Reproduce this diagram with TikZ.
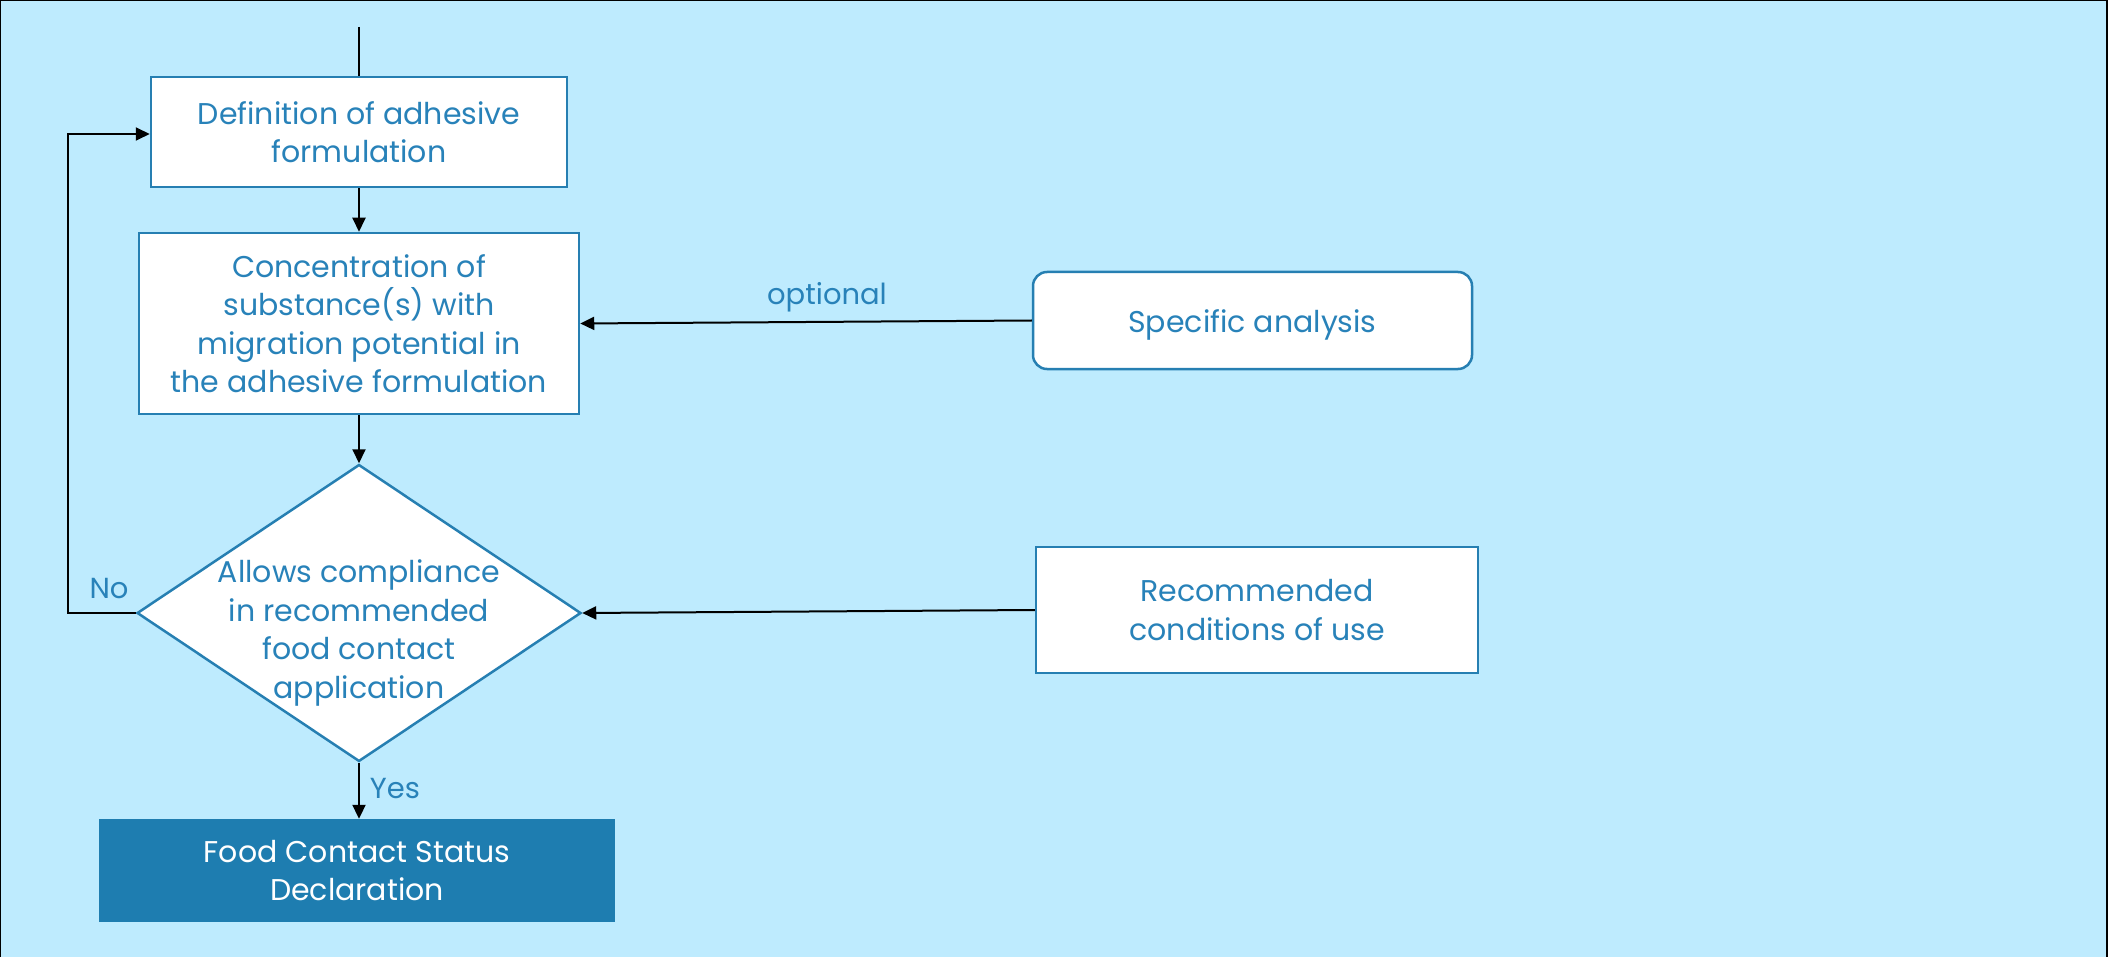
\documentclass[tikz,border=0pt]{standalone}
\usepackage{fontspec}
\setmainfont{Poppins}
\usetikzlibrary{arrows.meta,shapes.geometric}
\definecolor{bgblue}{RGB}{190,235,254}
\definecolor{lineblue}{RGB}{38,127,178}
\definecolor{txtblue}{RGB}{40,130,185}
\definecolor{fillblue}{RGB}{30,125,176}
\tikzset{
  x=1pt,y=-1pt,
  boxtxt/.style={font=\fontsize{30}{38.5}\selectfont, text=txtblue, align=center},
  procbox/.style={draw=lineblue, line width=2.5pt, fill=white, inner sep=0pt, boxtxt},
  conn/.style={draw=black, line width=2pt, -{Triangle[length=14pt,width=13pt]}},
  plainline/.style={draw=black, line width=2pt},
  lbl/.style={font=\fontsize{29}{38}\selectfont, text=txtblue}
}
\begin{document}
\begin{tikzpicture}
\useasboundingbox (0,0) rectangle (2108,957);
\fill[bgblue] (0,0) rectangle (2108,957);
\draw[black, line width=3pt] (0,0) -- (2108,0);
\draw[black, line width=2pt] (0,0) -- (0,957);
\draw[black, line width=4pt] (2108,0) -- (2108,957);

\node[procbox, minimum width=416pt, minimum height=110pt] (def) at (359,132) {Definition of adhesive\\formulation};
\node[procbox, minimum width=440pt, minimum height=181pt] (conc) at (359,323.5) {Concentration of\\substance(s) with\\migration potential in\\the adhesive formulation};
\node[draw=lineblue, line width=2.5pt, fill=white, diamond, minimum width=444pt, minimum height=297pt, inner sep=0pt] (dia) at (359,613) {};
\node[boxtxt] (diatxt) at (359,633) {Allows compliance\\in recommended\\food contact\\application};
\node[fill=fillblue, inner sep=0pt, minimum width=516pt, minimum height=103pt, font=\fontsize{30}{38.5}\selectfont, text=white, align=center] (fcs) at (357,870.5) {Food Contact Status\\Declaration};
\node[procbox, rounded corners=14pt, minimum width=439pt, minimum height=97pt, text height=30pt, text depth=7pt] (spec) at (1252.5,320.5) {Specific analysis};
\node[procbox, minimum width=442pt, minimum height=126pt] (rec) at (1257,610) {Recommended\\conditions of use};

\coordinate (top) at (359,27);
\coordinate (loopcorner) at (68,613);
\coordinate (looptop) at (68,134);

\draw[plainline] (top) -- (def.north);
\draw[conn] (def.south) -- (conc.north);
\draw[conn] (conc.south) -- (dia.north);
\draw[conn] (dia.south) -- (dia.south |- fcs.north);
\draw[conn] (spec.west) -- (conc.east);
\draw[conn] (rec.west) -- (dia.east);
\draw[conn] (dia.west) -- (loopcorner) -- (looptop) -- (def.west |- looptop);

\node[lbl] (optional) at (827,297) {optional};
\node[lbl] (no) at (109,589) {No};
\node[lbl] (yes) at (395,789) {Yes};
\end{tikzpicture}
\end{document}
